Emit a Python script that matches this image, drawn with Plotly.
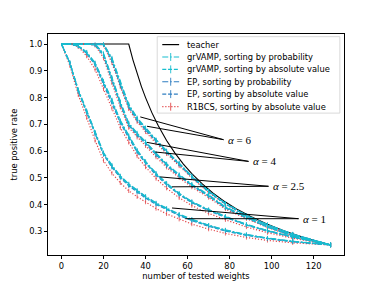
import plotly.graph_objects as go

# ---- data ----
x_tested = [0, 4, 8, 12, 16, 20, 24, 28, 32, 36, 40, 45, 50, 56, 62, 70, 78, 88, 98, 110, 128]

teacher_x = [0, 32, 34, 36, 38, 40, 43, 46, 50, 54, 58, 62, 67, 72, 78, 84, 90, 98, 106, 116, 128]
teacher_y = [1.0, 1.0, 0.941, 0.889, 0.842, 0.8, 0.744, 0.696, 0.64, 0.593, 0.552, 0.516, 0.478,
             0.444, 0.410, 0.381, 0.356, 0.327, 0.302, 0.276, 0.25]

alphas = ["1", "2.5", "4", "6"]

grvamp_prob = {
    "1":   [1.0, 0.93, 0.83, 0.75, 0.67, 0.595, 0.548, 0.508, 0.478, 0.454, 0.432, 0.407, 0.387, 0.365, 0.346, 0.324, 0.306, 0.289, 0.276, 0.264, 0.25],
    "2.5": [1.0, 1.0, 0.995, 0.97, 0.93, 0.862, 0.792, 0.715, 0.658, 0.604, 0.562, 0.518, 0.481, 0.443, 0.412, 0.382, 0.357, 0.327, 0.304, 0.281, 0.25],
    "4":   [1.0, 1.0, 1.0, 1.0, 1.0, 0.965, 0.875, 0.785, 0.705, 0.668, 0.636, 0.592, 0.553, 0.513, 0.477, 0.437, 0.392, 0.354, 0.319, 0.286, 0.25],
    "6":   [1.0, 1.0, 1.0, 1.0, 1.0, 1.0, 0.948, 0.858, 0.775, 0.725, 0.688, 0.643, 0.602, 0.556, 0.508, 0.452, 0.406, 0.361, 0.326, 0.291, 0.25],
}
grvamp_abs = {
    "1":   [1.0, 0.93, 0.825, 0.745, 0.665, 0.59, 0.543, 0.504, 0.474, 0.45, 0.428, 0.404, 0.384, 0.362, 0.343, 0.322, 0.304, 0.287, 0.275, 0.263, 0.25],
    "2.5": [1.0, 1.0, 0.993, 0.967, 0.925, 0.856, 0.786, 0.71, 0.653, 0.6, 0.558, 0.514, 0.477, 0.44, 0.41, 0.38, 0.355, 0.325, 0.303, 0.28, 0.25],
    "4":   [1.0, 1.0, 1.0, 1.0, 0.998, 0.96, 0.868, 0.778, 0.7, 0.663, 0.631, 0.588, 0.549, 0.51, 0.474, 0.434, 0.39, 0.352, 0.318, 0.285, 0.25],
    "6":   [1.0, 1.0, 1.0, 1.0, 1.0, 0.999, 0.942, 0.851, 0.769, 0.72, 0.683, 0.639, 0.598, 0.553, 0.505, 0.45, 0.404, 0.36, 0.325, 0.29, 0.25],
}
ep_prob = {
    "1":   [1.0, 0.93, 0.828, 0.748, 0.668, 0.592, 0.545, 0.506, 0.476, 0.452, 0.43, 0.405, 0.385, 0.363, 0.344, 0.323, 0.305, 0.288, 0.275, 0.263, 0.25],
    "2.5": [1.0, 1.0, 0.994, 0.968, 0.928, 0.859, 0.789, 0.712, 0.655, 0.602, 0.56, 0.516, 0.479, 0.441, 0.411, 0.381, 0.356, 0.326, 0.303, 0.28, 0.25],
    "4":   [1.0, 1.0, 1.0, 1.0, 1.0, 0.962, 0.872, 0.782, 0.702, 0.665, 0.633, 0.59, 0.551, 0.511, 0.475, 0.435, 0.391, 0.353, 0.318, 0.285, 0.25],
    "6":   [1.0, 1.0, 1.0, 1.0, 1.0, 1.0, 0.945, 0.854, 0.772, 0.722, 0.685, 0.641, 0.6, 0.554, 0.506, 0.451, 0.405, 0.36, 0.325, 0.29, 0.25],
}
ep_abs = {
    "1":   [1.0, 0.928, 0.823, 0.743, 0.662, 0.587, 0.54, 0.501, 0.471, 0.447, 0.425, 0.401, 0.381, 0.36, 0.341, 0.32, 0.302, 0.286, 0.274, 0.262, 0.25],
    "2.5": [1.0, 1.0, 0.992, 0.965, 0.922, 0.852, 0.782, 0.706, 0.65, 0.597, 0.555, 0.511, 0.475, 0.438, 0.408, 0.378, 0.353, 0.324, 0.302, 0.279, 0.25],
    "4":   [1.0, 1.0, 1.0, 1.0, 0.997, 0.957, 0.865, 0.775, 0.697, 0.66, 0.628, 0.585, 0.546, 0.507, 0.472, 0.432, 0.388, 0.351, 0.317, 0.284, 0.25],
    "6":   [1.0, 1.0, 1.0, 1.0, 1.0, 0.998, 0.938, 0.847, 0.765, 0.716, 0.679, 0.636, 0.595, 0.55, 0.503, 0.448, 0.403, 0.359, 0.324, 0.29, 0.25],
}
r1bcs_abs = {
    "1":   [1.0, 0.92, 0.81, 0.725, 0.64, 0.565, 0.518, 0.482, 0.452, 0.43, 0.41, 0.386, 0.366, 0.346, 0.328, 0.309, 0.293, 0.278, 0.267, 0.258, 0.25],
    "2.5": [1.0, 1.0, 0.99, 0.955, 0.905, 0.832, 0.76, 0.688, 0.633, 0.582, 0.541, 0.498, 0.462, 0.426, 0.397, 0.368, 0.344, 0.317, 0.296, 0.275, 0.25],
    "4":   [1.0, 1.0, 1.0, 1.0, 0.995, 0.948, 0.855, 0.765, 0.688, 0.652, 0.62, 0.578, 0.54, 0.501, 0.466, 0.427, 0.384, 0.348, 0.315, 0.283, 0.25],
    "6":   [1.0, 1.0, 1.0, 1.0, 1.0, 0.996, 0.93, 0.84, 0.758, 0.71, 0.672, 0.63, 0.59, 0.545, 0.5, 0.446, 0.401, 0.358, 0.323, 0.289, 0.25],
}

# annotation label positions (where the pointer lines meet) and pointer targets
label_text = {"1": "1", "2.5": "2.5", "4": "4", "6": "6"}
label_pos = {"6": (77.1, 0.643), "4": (89.0, 0.562), "2.5": (98.5, 0.469), "1": (112.8, 0.348)}
label_targets = {
    "6": [(37.5, 0.728), (40.7, 0.693)],
    "4": [(40.7, 0.633), (44.6, 0.597)],
    "2.5": [(47.0, 0.504), (52.6, 0.467)],
    "1": [(52.6, 0.388), (58.9, 0.348)],
}

legend_names = ["teacher",
                "grVAMP, sorting by probability",
                "grVAMP, sorting by absolute value",
                "EP, sorting by probability",
                "EP, sorting by absolute value",
                "R1BCS, sorting by absolute value"]

# ---- styles ----
CYAN = "#17becf"
BLUE = "#2f7ec1"
RED = "#e3474a"
DASH = "4px,1.8px"
DASHDOT = "6px,2px,1.5px,2px"
DOT = "1.2px,1.8px"
styles = {
    "teacher": ("black", "solid", False),
    "grVAMP, sorting by probability": (CYAN, DASHDOT, True),
    "grVAMP, sorting by absolute value": (CYAN, DASH, True),
    "EP, sorting by probability": (BLUE, DASHDOT, True),
    "EP, sorting by absolute value": (BLUE, DASH, True),
    "R1BCS, sorting by absolute value": (RED, DOT, True),
}
draw_order = [
    ("R1BCS, sorting by absolute value", r1bcs_abs),
    ("EP, sorting by absolute value", ep_abs),
    ("EP, sorting by probability", ep_prob),
    ("grVAMP, sorting by absolute value", grvamp_abs),
    ("grVAMP, sorting by probability", grvamp_prob),
]

fig = go.Figure()
fig.add_trace(go.Scatter(x=teacher_x, y=teacher_y, mode="lines", name="teacher",
                         line=dict(color="black", width=1.1), showlegend=False))

for name, data in draw_order:
    color, dash, _ = styles[name]
    for a in alphas:
        ys = data[a]
        err = [0.008 if v < 1 else 0 for v in ys]
        fig.add_trace(go.Scatter(
            x=x_tested, y=ys, mode="lines", name=name,
            line=dict(color=color, width=1.2, dash=dash),
            error_y=dict(type="data", array=err, color=color, thickness=0.8, width=0, visible=True),
            showlegend=False,
        ))

shapes = []
annotations = []
for a in alphas:
    lx, ly = label_pos[a]
    for tx, ty in label_targets[a]:
        shapes.append(dict(type="line", xref="x", yref="y", x0=lx, y0=ly, x1=tx, y1=ty,
                           line=dict(color="black", width=1)))
    annotations.append(dict(x=lx + 1.2, y=ly, xref="x", yref="y", text="<i>α</i> = " + label_text[a],
                            showarrow=False, xanchor="left", yanchor="middle",
                            font=dict(family="Liberation Serif, DejaVu Serif, serif", size=11, color="black")))

# ---- hand-built legend (paper coordinates of the plot area) ----
L_X0, L_X1, L_Y0, L_Y1 = 0.369, 0.986, 0.642, 0.988
shapes.append(dict(type="rect", xref="paper", yref="paper", x0=L_X0, x1=L_X1, y0=L_Y0, y1=L_Y1,
                   fillcolor="rgba(255,255,255,0.8)", line=dict(color="#d0d0d0", width=0.8), layer="above"))
row_y = [0.952, 0.896, 0.840, 0.784, 0.728, 0.671]
H_X0, H_X1, H_MID, TXT_X = 0.386, 0.443, 0.4145, 0.462
for name, yy in zip(legend_names, row_y):
    color, dash, has_err = styles[name]
    shapes.append(dict(type="line", xref="paper", yref="paper", x0=H_X0, x1=H_X1, y0=yy, y1=yy,
                       line=dict(color=color, width=1.2, dash=dash), layer="above"))
    if has_err:
        shapes.append(dict(type="line", xref="paper", yref="paper", x0=H_MID, x1=H_MID,
                           y0=yy - 0.018, y1=yy + 0.018,
                           line=dict(color=color, width=0.9), layer="above"))
    annotations.append(dict(x=TXT_X, y=yy, xref="paper", yref="paper", text=name, showarrow=False,
                            xanchor="left", yanchor="middle",
                            font=dict(family="DejaVu Sans", size=8.33, color="black")))

axis_common = dict(showline=True, linecolor="black", linewidth=0.8, mirror=True,
                   ticks="outside", ticklen=3, tickwidth=0.8, tickcolor="black",
                   showgrid=False, zeroline=False, automargin=False,
                   tickfont=dict(family="DejaVu Sans", size=8.33, color="black"))

fig.update_layout(
    width=382, height=287,
    margin=dict(l=47.75, r=38.2, t=34.4, b=31.6, autoexpand=False),
    paper_bgcolor="white", plot_bgcolor="white",
    font=dict(family="DejaVu Sans", size=8.33, color="black"),
    xaxis=dict(range=[-6.4, 134.4], tickvals=[0, 20, 40, 60, 80, 100, 120],
               title=dict(text="number of tested weights", font=dict(size=8.33), standoff=3),
               **axis_common),
    yaxis=dict(range=[0.2125, 1.0375], tickvals=[0.3, 0.4, 0.5, 0.6, 0.7, 0.8, 0.9, 1.0],
               tickformat=".1f",
               title=dict(text="true positive rate", font=dict(size=8.33), standoff=10),
               **axis_common),
    shapes=shapes, annotations=annotations,
    showlegend=False,
)

fig.write_html("out.html", config={"displayModeBar": False},
               post_script="document.body.style.margin='0px';document.body.style.overflow='hidden';")
